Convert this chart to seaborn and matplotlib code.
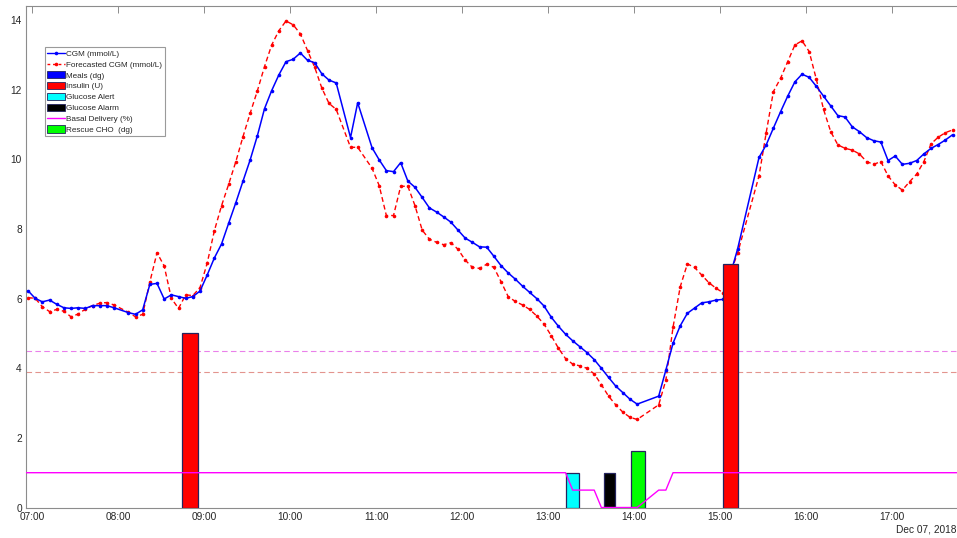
import numpy as np
import pandas as pd
import matplotlib
matplotlib.use("Agg")
import matplotlib.pyplot as plt
import seaborn as sns
from matplotlib.patches import Patch
from matplotlib.lines import Line2D

nan = np.nan

# ---------------- data ----------------
start_time = "2018-12-07 06:57"   # 5-minute CGM grid
cgm = [6.23, 6.01, 5.91, 5.96, 5.84, 5.74, 5.72, 5.74, 5.72, 5.80,
       5.80, 5.80, 5.74, nan, 5.60, 5.55, 5.68, 6.41, 6.44, 5.99,
       6.11, 6.06, 6.01, 6.06, 6.22, 6.68, 7.17, 7.57, 8.17, 8.76,
       9.38, 9.99, 10.68, 11.46, 11.98, 12.43, 12.81, 12.88, 13.06, 12.85,
       12.78, 12.46, 12.28, 12.20, nan, 10.63, 11.63, nan, 10.34, 9.99,
       9.68, 9.65, 9.91, 9.38, 9.20, 8.91, 8.61, 8.49, 8.35, 8.20,
       7.97, 7.74, 7.62, 7.49, 7.48, 7.22, 6.95, 6.74, 6.56, 6.36,
       6.18, 6.00, 5.79, 5.47, 5.21, 4.98, 4.79, 4.62, 4.45, 4.25,
       4.00, 3.74, 3.49, 3.30, 3.11, 2.97, nan, nan, 3.20, 3.95,
       4.72, 5.22, 5.58, 5.73, 5.88, 5.91, 5.96, 5.98, nan, 7.42,
       nan, nan, 10.06, 10.42, 10.90, 11.37, 11.82, 12.23, 12.45, 12.36,
       12.10, 11.82, 11.54, 11.26, 11.22, 10.94, 10.80, 10.63, 10.54, 10.50,
       9.97, 10.10, 9.86, 9.89, 9.97, 10.16, 10.32, 10.43, 10.56, 10.71]

forecast = [6.03, 6.01, 5.77, 5.63, 5.69, 5.64, 5.48, 5.56, 5.70, 5.80,
            5.87, 5.89, 5.82, nan, 5.61, 5.48, 5.55, 6.48, 7.32, 6.94,
            6.01, 5.72, 6.11, 6.09, 6.32, 7.02, 7.95, 8.67, 9.29, 9.94,
            10.66, 11.33, 11.97, 12.67, 13.29, 13.70, 13.98, 13.87, 13.61, 13.13,
            12.65, 12.05, 11.61, 11.44, nan, 10.35, 10.35, nan, 9.75, 9.25,
            8.39, 8.39, 9.23, 9.23, 8.67, 7.97, 7.71, 7.62, 7.55, 7.61,
            7.42, 7.11, 6.90, 6.87, 6.99, 6.90, 6.49, 6.06, 5.92, 5.82,
            5.69, 5.50, 5.27, 4.94, 4.58, 4.28, 4.12, 4.07, 4.00, 3.84,
            3.53, 3.20, 2.95, 2.74, 2.59, 2.53, nan, nan, 2.95, 3.66,
            5.18, 6.34, 7.00, 6.90, 6.68, 6.46, 6.30, 6.17, nan, 7.30,
            nan, nan, 9.53, 10.77, 11.95, 12.33, 12.81, 13.29, 13.41, 13.10,
            12.30, 11.44, 10.80, 10.42, 10.32, 10.27, 10.16, 9.94, 9.86, 9.94,
            9.53, 9.27, 9.12, 9.36, 9.58, 9.94, 10.45, 10.64, 10.77, 10.85]

basal_start = "2018-12-07 06:52"  # basal delivery on the same 5-minute grid
basal = ([1.0] * 77 + [0.5, 0.5, 0.5, 0.5] + [0.0] * 6 + [nan, nan, 0.5, 0.5]
         + [1.0] * 43)

insulin_times = ["2018-12-07 08:50", "2018-12-07 15:07"]
insulin_units = [5.0, 7.0]
alert_times = ["2018-12-07 13:17"]
alert_values = [1.0]
alarm_times = ["2018-12-07 13:42:30"]
alarm_values = [1.0]
rescue_times = ["2018-12-07 14:02:30"]
rescue_values = [1.62]

alert_level = 4.5
alarm_level = 3.9

xtick_labels = ["07:00", "08:00", "09:00", "10:00", "11:00", "12:00",
                "13:00", "14:00", "15:00", "16:00", "17:00"]
yticks = [0, 2, 4, 6, 8, 10, 12, 14]
date_label = "Dec 07, 2018"

legend_labels = ["CGM (mmol/L)", "Forecasted CGM (mmol/L)", "Meals (dg)", "Insulin (U)",
                 "Glucose Alert", "Glucose Alarm", "Basal Delivery (%)", "Rescue CHO  (dg)"]

# ---------------- style ----------------
sns.set_theme(style="white")
plt.rcParams["font.family"] = ["Liberation Sans", "DejaVu Sans"]

times = pd.date_range(start_time, periods=len(cgm), freq="5min")
df = pd.DataFrame({"time": times, "cgm": cgm, "forecast": forecast})
df_basal = pd.DataFrame({"time": pd.date_range(basal_start, periods=len(basal), freq="5min"),
                         "basal": basal})

fig = plt.figure(figsize=(9.57, 5.38), dpi=100)
ax = fig.add_axes([26 / 957, 1 - 507.5 / 538, 934 / 957, 501.5 / 538])

ax.axhline(alert_level, color="#ea80ea", lw=0.8, ls=(0, (5, 3)), zorder=1)
ax.axhline(alarm_level, color="#e3948e", lw=0.8, ls=(0, (5, 3)), zorder=1)

sns.lineplot(data=df.dropna(subset=["forecast"]), x="time", y="forecast", ax=ax,
             color="#ff0000", lw=1.0, linestyle=(0, (3.5, 2.2)), marker="o",
             markersize=2.6, markeredgewidth=0, zorder=2, estimator=None)
sns.lineplot(data=df.dropna(subset=["cgm"]), x="time", y="cgm", ax=ax,
             color="#0000ff", lw=1.1, marker="o", markersize=2.6,
             markeredgewidth=0, zorder=3, estimator=None)

edge = "#24245e"
ax.bar(pd.to_datetime(insulin_times), insulin_units, width=10.5 / 1440,
       color="#ff0000", edgecolor=edge, lw=0.9, zorder=4)
ax.bar(pd.to_datetime(alert_times), alert_values, width=9 / 1440,
       color="#00ffff", edgecolor=edge, lw=0.9, zorder=4)
ax.bar(pd.to_datetime(alarm_times), alarm_values, width=8 / 1440,
       color="#000000", edgecolor=edge, lw=0.9, zorder=4)
ax.bar(pd.to_datetime(rescue_times), rescue_values, width=10 / 1440,
       color="#00ff00", edgecolor=edge, lw=0.9, zorder=4)

sns.lineplot(data=df_basal.dropna(subset=["basal"]), x="time", y="basal", ax=ax,
             color="#ff00ff", lw=1.0, zorder=5, estimator=None)

ax.set_xlim(pd.Timestamp("2018-12-07 06:55:36"), pd.Timestamp("2018-12-07 17:47:12"))
ax.set_ylim(0, 14.41)
ax.set_xticks(pd.date_range("2018-12-07 07:00", periods=len(xtick_labels), freq="h"))
ax.set_xticklabels(xtick_labels)
ax.set_yticks(yticks)
ax.set_yticklabels([str(v) for v in yticks])
ax.set_xlabel("")
ax.set_ylabel("")

for s in ax.spines.values():
    s.set_color("#8c8c8c")
    s.set_linewidth(0.8)
ax.tick_params(direction="in", length=5, width=0.7, color="#8c8c8c",
               top=True, right=False, labelsize=7.3, labelcolor="#262626", pad=3)

handles = [
    Line2D([], [], color="#0000ff", lw=1.0, marker="o", markersize=2.6, markeredgewidth=0),
    Line2D([], [], color="#ff0000", lw=1.0, ls=(0, (2, 2)), marker="o", markersize=2.6, markeredgewidth=0),
    Patch(facecolor="#0000ff", edgecolor=edge, lw=0.6),
    Patch(facecolor="#ff0000", edgecolor=edge, lw=0.6),
    Patch(facecolor="#00ffff", edgecolor=edge, lw=0.6),
    Patch(facecolor="#000000", edgecolor=edge, lw=0.6),
    Line2D([], [], color="#ff00ff", lw=1.0),
    Patch(facecolor="#00ff00", edgecolor=edge, lw=0.6),
]
leg = ax.legend(handles, legend_labels, loc="upper left",
                bbox_to_anchor=(19 / 934, 1 - 41 / 501.5), fontsize=5.85,
                frameon=True, fancybox=False, edgecolor="#9a9a9a", framealpha=1,
                borderpad=0.3, labelspacing=0.3, handlelength=2.2,
                handleheight=1.0, handletextpad=0.12, borderaxespad=0)
leg.get_frame().set_linewidth(0.8)
leg.set_zorder(10)

fig.text(0.999, 1 - 529 / 538, date_label, ha="right", va="center",
         fontsize=7.3, color="#262626")

fig.savefig("out.png", dpi=100)
